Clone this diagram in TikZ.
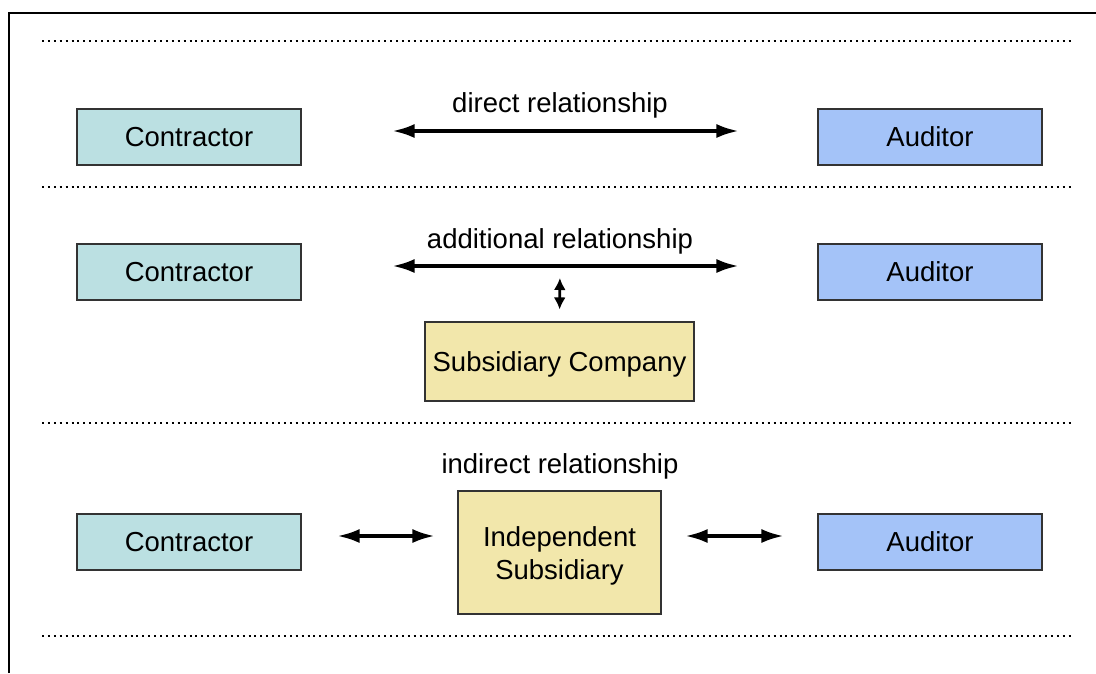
\documentclass[tikz,border=0pt]{standalone}
\usepackage{fontspec}
\setmainfont{Liberation Sans}
\usetikzlibrary{arrows.meta}
\definecolor{contrfill}{HTML}{BBE0E2}
\definecolor{audfill}{HTML}{A4C3F8}
\definecolor{subfill}{HTML}{F2E7AB}
\definecolor{boxline}{HTML}{333333}
\tikzset{
  box/.style={draw=boxline, line width=1.1pt, inner sep=0pt, align=center,
    font=\fontsize{27.5}{33}\selectfont},
  contr/.style={box, fill=contrfill, minimum width=224pt, minimum height=56pt},
  aud/.style={box, fill=audfill, minimum width=224pt, minimum height=56pt},
  label/.style={inner sep=0pt, align=center, font=\fontsize{27.5}{33}\selectfont},
  rel/.style={line width=3.2pt, {Latex[length=22pt,width=14pt]}-{Latex[length=22pt,width=14pt]}},
  smallrel/.style={line width=2.8pt, {Latex[length=12pt,width=12pt]}-{Latex[length=12pt,width=12pt]}},
  separator/.style={line width=2pt, dash pattern=on 2pt off 3.9pt},
}
\begin{document}
\begin{tikzpicture}[x=1pt,y=-1pt]
  \useasboundingbox (0,0) rectangle (1096,673);
  % frame
  \draw[line width=2.2pt] (9,673) -- (9,13) -- (1096,13);
  % section separators
  \foreach \y in {41,187,423,636}
    \draw[separator] (42,\y) -- (1074,\y);

  % row 1: direct relationship
  \node[contr] (c1) at (189,137) {Contractor};
  \node[aud] (a1) at (930,137) {Auditor};
  \node[label] (l1) at (560,105) {direct relationship};
  \draw[rel, shorten <=91pt, shorten >=79pt]
    ([yshift=6pt]c1.east) -- ([yshift=6pt]a1.west);

  % row 2: additional relationship
  \node[contr] (c2) at (189,272) {Contractor};
  \node[aud] (a2) at (930,272) {Auditor};
  \node[label] (l2) at (560,241) {additional relationship};
  \node[box, fill=subfill, minimum width=269pt, minimum height=79pt] (s2) at (559.5,361.5) {};
  \node[label] (s2text) at (559.5,364) {Subsidiary Company};
  \draw[rel, shorten <=91pt, shorten >=79pt]
    ([yshift=6pt]c2.east) -- ([yshift=6pt]a2.west);
  \coordinate (m2) at (560,266);
  \draw[smallrel, shorten <=12pt, shorten >=12pt] (m2) -- (s2.north);

  % row 3: indirect relationship
  \node[contr] (c3) at (189,542) {Contractor};
  \node[aud] (a3) at (930,542) {Auditor};
  \node[label] (l3) at (560,466) {indirect relationship};
  \node[box, fill=subfill, minimum width=203pt, minimum height=123pt] (s3) at (559.5,552.5) {};
  \node[label] (s3text) at (559.5,555.5) {Independent\\Subsidiary};
  \draw[rel, shorten <=36pt, shorten >=23pt]
    ([yshift=6pt]c3.east) -- ([yshift=6pt]s3.west |- c3.east);
  \draw[rel, shorten <=24pt, shorten >=34pt]
    ([yshift=6pt]s3.east |- a3.west) -- ([yshift=6pt]a3.west);
\end{tikzpicture}
\end{document}
